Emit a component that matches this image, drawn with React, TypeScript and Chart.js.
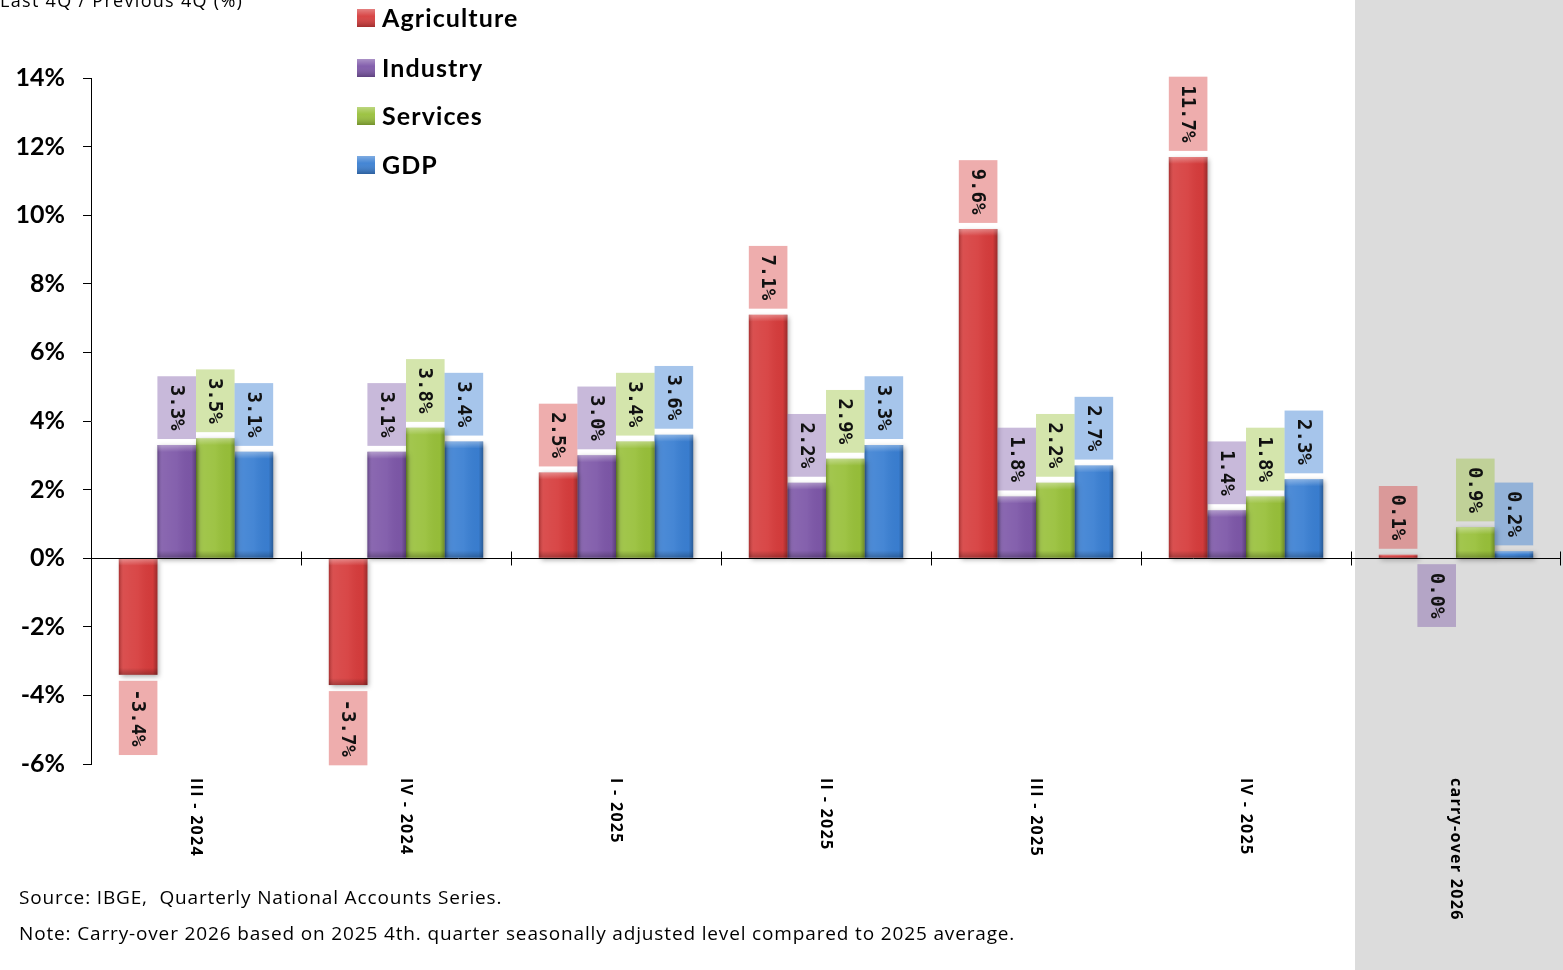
import React, { useEffect, useRef } from "react";
import { Chart, registerables } from "chart.js";

Chart.register(...registerables);

const categories = ["III - 2024", "IV - 2024", "I - 2025", "II - 2025", "III - 2025", "IV - 2025", "carry-over 2026"];
const agriculture = [-3.4, -3.7, 2.5, 7.1, 9.6, 11.7, 0.1];
const industry = [3.3, 3.1, 3.0, 2.2, 1.8, 1.4, 0.0];
const services = [3.5, 3.8, 3.4, 2.9, 2.2, 1.8, 0.9];
const gdp = [3.1, 3.4, 3.6, 3.3, 2.7, 2.3, 0.2];
const seriesNames = ["Agriculture", "Industry", "Services", "GDP"];
const yMin = -6;
const yMax = 14;
const yStep = 2;
const titleText = "Last 4Q / Previous 4Q (%)";
const sourceNote = "Source: IBGE,  Quarterly National Accounts Series.";
const carryNote = "Note: Carry-over 2026 based on 2025 4th. quarter seasonally adjusted level compared to 2025 average.";

const W = 1563;
const H = 970;

const barColors = ["#d63c3c", "#7d57a8", "#98c03a", "#3a7fd2"];
const boxColors = ["rgba(214,60,60,0.42)", "rgba(125,87,168,0.42)", "rgba(152,192,58,0.42)", "rgba(58,127,210,0.45)"];

const customPlugin = {
  id: "custom",
  beforeDraw(chart: any) {
    const { ctx, scales } = chart;
    const x = scales.x;
    ctx.save();
    ctx.fillStyle = "#ffffff";
    ctx.fillRect(0, 0, W, H);
    const n = categories.length;
    const lastB = (x.getPixelForValue(n - 2) + x.getPixelForValue(n - 1)) / 2;
    ctx.fillStyle = "#dcdcdc";
    ctx.fillRect(lastB + 4, 0, W - lastB - 4, H);
    ctx.restore();
  },
  beforeDatasetsDraw(chart: any) {
    const ctx = chart.ctx;
    ctx.save();
    ctx.shadowColor = "rgba(0,0,0,0.35)";
    ctx.shadowBlur = 5;
    ctx.shadowOffsetX = 2;
    ctx.shadowOffsetY = 2;
  },
  afterDatasetsDraw(chart: any) {
    const { ctx, chartArea, scales } = chart;
    ctx.restore();
    const x = scales.x;
    const y = scales.y;
    chart.data.datasets.forEach((ds: any, di: number) => {
      const meta = chart.getDatasetMeta(di);
      meta.data.forEach((el: any) => {
        const w = el.width;
        const left = el.x - w / 2;
        const top = Math.min(el.y, el.base);
        const h = Math.abs(el.base - el.y);
        if (h < 0.5) return;
        const g = ctx.createLinearGradient(left, 0, left + w, 0);
        g.addColorStop(0, "rgba(0,0,0,0.22)");
        g.addColorStop(0.12, "rgba(255,255,255,0.10)");
        g.addColorStop(0.5, "rgba(255,255,255,0.06)");
        g.addColorStop(0.88, "rgba(0,0,0,0.02)");
        g.addColorStop(1, "rgba(0,0,0,0.28)");
        ctx.fillStyle = g;
        ctx.fillRect(left, top, w, h);
        const edge = Math.min(7, h / 2);
        const g2 = ctx.createLinearGradient(0, top, 0, top + edge);
        g2.addColorStop(0, "rgba(255,255,255,0.35)");
        g2.addColorStop(1, "rgba(255,255,255,0)");
        ctx.fillStyle = g2;
        ctx.fillRect(left, top, w, edge);
        const g3 = ctx.createLinearGradient(0, top + h - edge, 0, top + h);
        g3.addColorStop(0, "rgba(0,0,0,0)");
        g3.addColorStop(1, "rgba(0,0,0,0.25)");
        ctx.fillStyle = g3;
        ctx.fillRect(left, top + h - edge, w, edge);
      });
    });

    const y0 = Math.round(y.getPixelForValue(0)) + 0.5;
    ctx.save();
    ctx.strokeStyle = "#000";
    ctx.lineWidth = 1;
    ctx.beginPath();
    ctx.moveTo(chartArea.left, y0);
    ctx.lineTo(chartArea.right, y0);
    const n = categories.length;
    for (let i = 1; i <= n; i++) {
      let bx;
      if (i === n) bx = chartArea.right - 0.5;
      else bx = Math.round((x.getPixelForValue(i - 1) + x.getPixelForValue(i)) / 2) + 0.5;
      ctx.moveTo(bx, y0 - 7);
      ctx.lineTo(bx, y0 + 7);
    }
    ctx.stroke();
    ctx.restore();

    ctx.save();
    ctx.font = "bold 19px 'DejaVu Sans Mono'";
    chart.data.datasets.forEach((ds: any, di: number) => {
      const meta = chart.getDatasetMeta(di);
      meta.data.forEach((el: any, j: number) => {
        const v = ds.data[j];
        const txt = v.toFixed(1) + "%";
        const tw = ctx.measureText(txt).width;
        const bh = tw + 17;
        const bw = el.width;
        const top = v > 0 ? el.y - 6 - bh : el.y + 6;
        ctx.fillStyle = boxColors[di];
        ctx.fillRect(el.x - bw / 2, top, bw, bh);
        ctx.save();
        ctx.translate(el.x, top + bh / 2);
        ctx.rotate(Math.PI / 2);
        ctx.fillStyle = "#111";
        ctx.textAlign = "center";
        ctx.textBaseline = "middle";
        ctx.fillText(txt, 0, 1);
        ctx.restore();
      });
    });
    ctx.restore();

    ctx.save();
    ctx.font = "bold 16px 'Open Sans'";
    (ctx as any).letterSpacing = "1.3px";
    ctx.fillStyle = "#000";
    categories.forEach((c, i) => {
      const cx = x.getPixelForValue(i);
      ctx.save();
      ctx.translate(cx, chartArea.bottom + 14);
      ctx.rotate(Math.PI / 2);
      ctx.textAlign = "left";
      ctx.textBaseline = "middle";
      ctx.fillText(c, 0, 0);
      ctx.restore();
    });
    ctx.restore();

    ctx.save();
    const rows = [18, 68, 116, 165];
    seriesNames.forEach((name, i) => {
      const sx = 357;
      const sy = rows[i] - 9;
      ctx.fillStyle = barColors[i];
      ctx.fillRect(sx, sy, 18, 18);
      const g = ctx.createLinearGradient(0, sy, 0, sy + 18);
      g.addColorStop(0, "rgba(255,255,255,0.35)");
      g.addColorStop(0.4, "rgba(255,255,255,0.05)");
      g.addColorStop(1, "rgba(0,0,0,0.25)");
      ctx.fillStyle = g;
      ctx.fillRect(sx, sy, 18, 18);
      ctx.fillStyle = "#000";
      ctx.font = "bold 25px Lato";
      (ctx as any).letterSpacing = "1.1px";
      ctx.textAlign = "left";
      ctx.textBaseline = "middle";
      ctx.fillText(name, 382, rows[i] + 1);
    });
    ctx.restore();

    ctx.save();
    ctx.fillStyle = "#000";
    ctx.font = "18px 'Open Sans'";
    (ctx as any).letterSpacing = "1.3px";
    ctx.textAlign = "left";
    ctx.textBaseline = "alphabetic";
    ctx.fillText(titleText, 0, 7);
    ctx.font = "19px 'Open Sans'";
    (ctx as any).letterSpacing = "0.85px";
    ctx.textBaseline = "middle";
    ctx.fillText(sourceNote, 19, 899);
    ctx.fillText(carryNote, 19, 935);
    ctx.restore();
  },
};

export default function App() {
  const ref = useRef<HTMLCanvasElement | null>(null);
  useEffect(() => {
    if (!ref.current) return;
    const chart = new Chart(ref.current, {
      type: "bar",
      data: {
        labels: categories,
        datasets: [
          { label: seriesNames[0], data: agriculture, backgroundColor: barColors[0] },
          { label: seriesNames[1], data: industry, backgroundColor: barColors[1] },
          { label: seriesNames[2], data: services, backgroundColor: barColors[2] },
          { label: seriesNames[3], data: gdp, backgroundColor: barColors[3] },
        ],
      },
      options: {
        animation: false,
        responsive: false,
        devicePixelRatio: 1,
        layout: { padding: { top: 78, bottom: 206, left: 0, right: 2 } },
        datasets: { bar: { categoryPercentage: 0.735, barPercentage: 1 } },
        plugins: { legend: { display: false }, tooltip: { enabled: false }, title: { display: false } },
        scales: {
          x: { display: false, offset: true, grid: { display: false } },
          y: {
            min: yMin,
            max: yMax,
            afterFit: (s: any) => {
              s.width = 91;
            },
            ticks: {
              stepSize: yStep,
              callback: (v: any) => v + "%",
              color: "#000",
              font: { family: "Lato", weight: "bold", size: 25 },
              padding: 18,
            },
            grid: { drawOnChartArea: false, drawTicks: true, tickLength: 8, color: "#000" },
            border: { display: true, color: "#000", width: 1 },
          },
        },
      },
      plugins: [customPlugin],
    });
    return () => chart.destroy();
  }, []);
  return (
    <div style={{ position: "fixed", left: 0, top: 0, width: W, height: H, background: "#fff" }}>
      <canvas ref={ref} width={W} height={H} style={{ width: W, height: H, display: "block" }} />
    </div>
  );
}
